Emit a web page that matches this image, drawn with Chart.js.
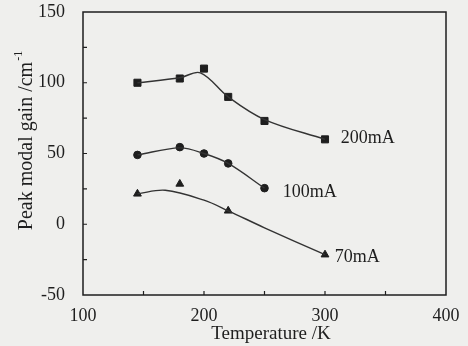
<!DOCTYPE html>
<html lang="en">
<head>
<meta charset="UTF-8">
<title>Peak modal gain</title>
<script src="https://cdn.jsdelivr.net/npm/chart.js"></script>
<style>
    html, body { margin: 0; padding: 0; background: #efefed; }
    #wrap { width: 468px; height: 346px; }
</style>
</head>
<body>
<div id="wrap"><canvas id="gainChart"></canvas></div>
<script>
// measured points
const temp200 = [145, 180, 200, 220, 250, 300];
const gain200 = [100, 103, 110, 90, 73, 60];
const temp100 = [145, 180, 200, 220, 250];
const gain100 = [49, 54.5, 50, 43, 25.5];
const temp70 = [145, 180, 220, 300];
const gain70 = [21.5, 28.5, 9.5, -21.5];

// fitted curves
const fitT200 = [145, 180, 197, 220, 250, 300];
const fitG200 = [100, 103.5, 107, 90, 74, 60];
const fitT100 = [145, 180, 200, 220, 250];
const fitG100 = [49, 54, 50, 43, 25.5];
const fitT70 = [145, 168, 200, 220, 250, 300];
const fitG70 = [21.5, 24, 17, 9.5, -2.5, -21.5];

const xTicks = [100, 200, 300, 400];
const yTicks = [-50, 0, 50, 100, 150];
const currentLabels = ['200mA', '100mA', '70mA'];
const labelAt = [[313, 60.5], [265, 22.5], [308, -23]];

const ink = '#1e1e1e';
const serif = '"Liberation Serif", "DejaVu Serif", serif';

function pts(xs, ys) {
    return xs.map((x, i) => ({ x: x, y: ys[i] }));
}

function fitSet(xs, ys) {
    return { data: pts(xs, ys), showLine: true, borderColor: '#333', borderWidth: 1.4,
             pointRadius: 0, tension: 0.35, fill: false };
}

function markSet(xs, ys, style, r) {
    return { data: pts(xs, ys), showLine: false, pointStyle: style, pointRadius: r,
             backgroundColor: ink, borderColor: ink, borderWidth: 1 };
}

const decor = {
    id: 'decor',
    afterDraw(chart) {
        const { ctx, chartArea: a, scales } = chart;
        const x = scales.x, y = scales.y;
        ctx.save();
        ctx.strokeStyle = ink;
        ctx.lineWidth = 1.5;
        ctx.strokeRect(a.left, a.top, a.right - a.left, a.bottom - a.top);
        ctx.lineWidth = 1.2;
        ctx.beginPath();
        for (let v = -25; v < 150; v += 25) {
            const py = y.getPixelForValue(v);
            ctx.moveTo(a.left, py); ctx.lineTo(a.left + 4, py);
        }
        for (let v = 150; v < 400; v += 50) {
            const px = x.getPixelForValue(v);
            ctx.moveTo(px, a.bottom); ctx.lineTo(px, a.bottom - 4);
        }
        ctx.stroke();

        ctx.fillStyle = ink;
        ctx.font = '18px ' + serif;
        ctx.textBaseline = 'middle';
        ctx.textAlign = 'left';
        currentLabels.forEach((t, i) => {
            ctx.fillText(t, x.getPixelForValue(labelAt[i][0]), y.getPixelForValue(labelAt[i][1]));
        });

        ctx.textAlign = 'center';
        ctx.font = '19px ' + serif;
        ctx.fillText('Temperature /K', 271, 334);

        ctx.translate(27, 141);
        ctx.rotate(-Math.PI / 2);
        const main = 'Peak modal gain /cm';
        ctx.font = '20px ' + serif;
        const w = ctx.measureText(main).width;
        ctx.font = '12px ' + serif;
        const ws = ctx.measureText('-1').width;
        const total = w + ws;
        ctx.textAlign = 'left';
        ctx.font = '20px ' + serif;
        ctx.fillText(main, -total / 2, 0);
        ctx.font = '12px ' + serif;
        ctx.fillText('-1', -total / 2 + w + 1, -8);
        ctx.restore();
    }
};

new Chart(document.getElementById('gainChart'), {
    type: 'scatter',
    data: {
        datasets: [
            fitSet(fitT200, fitG200),
            fitSet(fitT100, fitG100),
            fitSet(fitT70, fitG70),
            markSet(temp200, gain200, 'rect', 5),
            markSet(temp100, gain100, 'circle', 3.8),
            markSet(temp70, gain70, 'triangle', 4.5)
        ]
    },
    options: {
        responsive: true,
        maintainAspectRatio: false,
        animation: false,
        layout: { padding: { top: 12, right: 22, left: 0, bottom: 0 } },
        plugins: { legend: { display: false }, tooltip: { enabled: false } },
        scales: {
            x: {
                type: 'linear', min: 100, max: 400,
                afterFit(s) { s.height = 51; s.paddingLeft = 0; s.paddingRight = 0; },
                afterBuildTicks(s) { s.ticks = xTicks.map(v => ({ value: v })); },
                grid: { display: false },
                border: { display: false },
                ticks: { color: ink, font: { family: serif, size: 18 }, padding: 2, maxRotation: 0 }
            },
            y: {
                type: 'linear', min: -50, max: 150,
                afterFit(s) { s.width = 83; s.paddingTop = 0; s.paddingBottom = 0; },
                afterBuildTicks(s) { s.ticks = yTicks.map(v => ({ value: v })); },
                grid: { display: false },
                border: { display: false },
                ticks: { color: ink, font: { family: serif, size: 18 }, padding: 10 }
            }
        }
    },
    plugins: [decor]
});
</script>
</body>
</html>
